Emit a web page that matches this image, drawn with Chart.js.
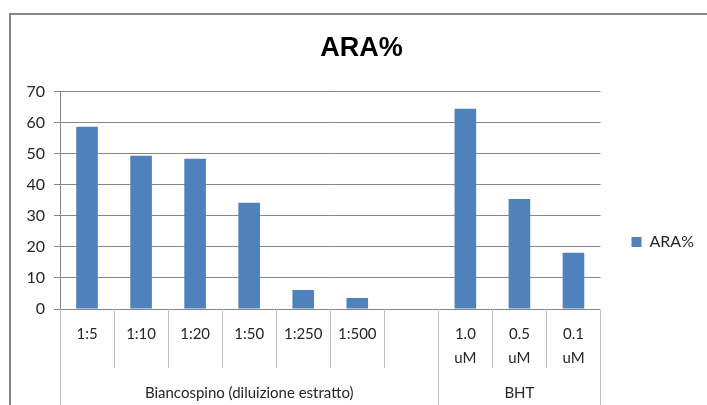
<!DOCTYPE html>
<html>
<head>
<meta charset="utf-8">
<script src="https://cdn.jsdelivr.net/npm/chart.js@4"></script>
<style>
  html, body { margin: 0; padding: 0; background: #fff; }
  #wrap { width: 707px; height: 405px; position: relative; }
</style>
</head>
<body>
<div id="wrap"><canvas id="araChart"></canvas></div>
<script>
const categories = ['1:5', '1:10', '1:20', '1:50', '1:250', '1:500', '', ['1.0', 'uM'], ['0.5', 'uM'], ['0.1', 'uM']];
const araValues = [58.6, 49.3, 48.3, 34.2, 6.1, 3.5, null, 64.4, 35.4, 18.1];
const groups = [
  { label: 'Biancospino (diluizione estratto)', from: 0, to: 6 },
  { label: 'BHT', from: 7, to: 9 }
];
const yTicks = [0, 10, 20, 30, 40, 50, 60, 70];

// frame + two-level category axis
const groupAxis = {
  id: 'groupAxis',
  beforeDraw(chart) {
    const ctx = chart.ctx;
    ctx.save();
    ctx.strokeStyle = '#868686';
    ctx.lineWidth = 2;
    ctx.beginPath();
    ctx.moveTo(10, chart.height);
    ctx.lineTo(10, 14);
    ctx.lineTo(chart.width, 14);
    ctx.stroke();
    ctx.restore();
  },
  afterDraw(chart) {
    const x = chart.scales.x, ctx = chart.ctx;
    const bottom = chart.chartArea.bottom;
    const step = x.getPixelForValue(1) - x.getPixelForValue(0);
    const start = x.getPixelForValue(0) - step / 2;
    const edges = [];
    groups.forEach(g => { edges.push(g.from); edges.push(g.to + 1); });
    ctx.save();
    ctx.strokeStyle = '#BFBFBF';
    ctx.lineWidth = 1;
    for (let i = 0; i <= categories.length; i++) {
      const px = Math.round(start + i * step) + 0.5;
      const long = edges.includes(i);
      ctx.beginPath();
      ctx.moveTo(px, bottom);
      ctx.lineTo(px, long ? chart.height : bottom + 59);
      ctx.stroke();
    }
    ctx.fillStyle = '#262626';
    ctx.font = '15px Lato';
    ctx.textAlign = 'center';
    ctx.textBaseline = 'middle';
    groups.forEach(g => {
      const cx = start + (g.from + g.to + 1) / 2 * step;
      ctx.fillText(g.label, cx, bottom + 84);
    });
    ctx.restore();
  }
};

new Chart(document.getElementById('araChart'), {
  type: 'bar',
  data: {
    labels: categories,
    datasets: [{
      label: 'ARA%',
      data: araValues,
      backgroundColor: '#4F81BD',
      borderWidth: 0,
      barPercentage: 1,
      categoryPercentage: 0.4
    }]
  },
  options: {
    responsive: true,
    maintainAspectRatio: false,
    animation: false,
    layout: { padding: { left: 19, right: 3, top: 0, bottom: 0 } },
    plugins: {
      title: {
        display: true,
        text: 'ARA%',
        color: '#000',
        font: { family: 'Liberation Sans', size: 27, weight: 'bold' },
        padding: { top: 32, bottom: 27 }
      },
      legend: {
        position: 'right',
        title: { display: true, text: ' ', font: { size: 16 }, padding: { top: 0, bottom: 60 } },
        labels: {
          boxWidth: 10,
          boxHeight: 10,
          color: '#262626',
          font: { family: 'Lato', size: 16 },
          padding: 31
        }
      },
      tooltip: { enabled: false }
    },
    scales: {
      x: {
        grid: { display: false },
        border: { display: true, color: '#868686', width: 1 },
        ticks: {
          color: '#262626',
          font: { family: 'Lato', size: 15, lineHeight: 1.6 },
          padding: 5,
          autoSkip: false,
          maxRotation: 0
        },
        afterFit(scale) { scale.height = 96; }
      },
      y: {
        min: 0,
        max: 70,
        afterBuildTicks(scale) { scale.ticks = yTicks.map(v => ({ value: v })); },
        grid: { color: '#868686', tickLength: 6, tickColor: '#868686' },
        border: { display: true, color: '#868686' },
        ticks: {
          color: '#262626',
          font: { family: 'Lato', size: 16 },
          padding: 9
        },
        afterFit(scale) { scale.width = 41; }
      }
    }
  },
  plugins: [groupAxis]
});
</script>
</body>
</html>
